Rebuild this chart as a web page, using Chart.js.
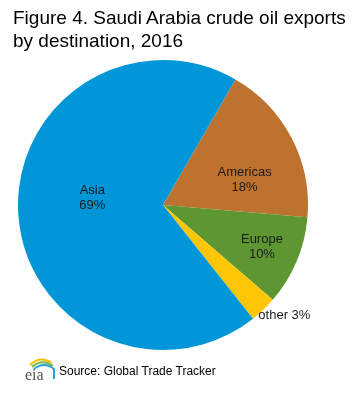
<!DOCTYPE html>
<html>
<head>
<meta charset="utf-8">
<script src="https://cdn.jsdelivr.net/npm/chart.js@4.4.1/dist/chart.umd.min.js"></script>
<style>
  html, body { margin: 0; padding: 0; background: #fff; }
  #wrap { position: relative; width: 352px; height: 393px; overflow: hidden; font-family: "Liberation Sans", Arial, sans-serif; }
  #chart { position: absolute; left: 0; top: 0; }
  #title { position: absolute; left: 13px; top: 6px; font-size: 19px; line-height: 23px; color: #000; }
  #source { position: absolute; left: 59px; top: 364px; font-size: 12px; color: #000; }
  #logo { position: absolute; left: 24px; top: 355px; }
</style>
</head>
<body>
<div id="wrap">
  <canvas id="chart" width="352" height="393"></canvas>
  <div id="title">Figure 4. Saudi Arabia crude oil exports<br>by destination, 2016</div>
  <svg id="logo" width="32" height="28" viewBox="0 0 32 28">
    <path d="M6 10 Q16 0 28 8" stroke="#f2c200" stroke-width="2" fill="none"/>
    <path d="M8 12 Q18 3 29 11" stroke="#7ab648" stroke-width="2" fill="none"/>
    <path d="M10 14 Q20 6 30 14 L30 24" stroke="#2a9fd6" stroke-width="2" fill="none"/>
    <text x="1" y="25" font-family="Liberation Serif, serif" font-size="16" fill="#555">eia</text>
  </svg>
  <div id="source">Source: Global Trade Tracker</div>
</div>
<script>
document.addEventListener('DOMContentLoaded', function () {
    // values (percent of exports)
    const categories = ['Americas', 'Europe', 'other', 'Asia'];
    const shares = [18, 10, 3, 69];
    const sliceColors = ['#bd732f', '#5e9732', '#ffc608', '#0096d7'];

    // label placement: fraction of radius, angle nudge in degrees
    const labelSpots = [
        { r: 0.59, turn: 10, inside: true },
        { r: 0.74, turn: 0, inside: true },
        { r: 1.13, turn: -4, inside: false },
        { r: 0.49, turn: 10, inside: true }
    ];

    const sliceLabels = {
        id: 'sliceLabels',
        afterDatasetsDraw(chart) {
            const ctx = chart.ctx;
            const arcs = chart.getDatasetMeta(0).data;
            ctx.save();
            ctx.font = '13px "Liberation Sans", Arial, sans-serif';
            ctx.fillStyle = '#1a1a1a';
            ctx.textAlign = 'center';
            ctx.textBaseline = 'middle';
            arcs.forEach(function (arc, i) {
                const p = arc.getProps(['x', 'y', 'startAngle', 'endAngle', 'outerRadius'], true);
                const spot = labelSpots[i];
                const mid = (p.startAngle + p.endAngle) / 2 + spot.turn * Math.PI / 180;
                const lx = p.x + Math.cos(mid) * p.outerRadius * spot.r;
                const ly = p.y + Math.sin(mid) * p.outerRadius * spot.r;
                if (spot.inside) {
                    ctx.fillText(categories[i], lx, ly - 7);
                    ctx.fillText(shares[i] + '%', lx, ly + 8);
                } else {
                    ctx.fillText(categories[i] + ' ' + shares[i] + '%', lx, ly);
                }
            });
            ctx.restore();
        }
    };

    new Chart(document.getElementById('chart'), {
        type: 'pie',
        data: {
            labels: categories,
            datasets: [{
                data: shares,
                backgroundColor: sliceColors,
                borderWidth: 0
            }]
        },
        options: {
            responsive: false,
            animation: false,
            rotation: 30,
            layout: { padding: { left: 18, right: 44, top: 60, bottom: 43 } },
            plugins: {
                legend: { display: false },
                tooltip: { enabled: false }
            }
        },
        plugins: [sliceLabels]
    });
});
</script>
</body>
</html>
